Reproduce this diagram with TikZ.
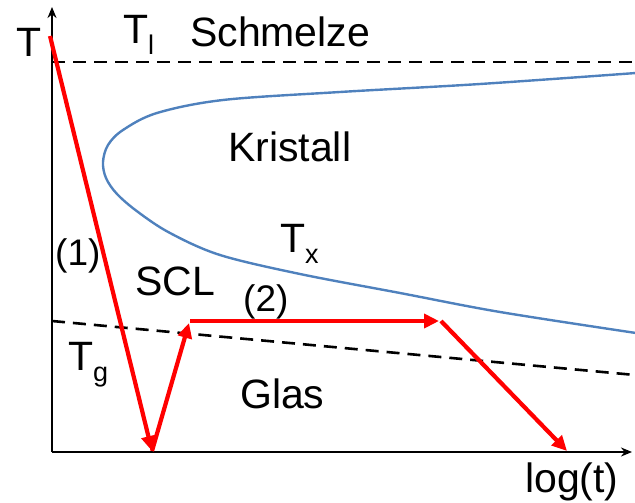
\documentclass[tikz,border=0pt]{standalone}
\usepackage{fontspec}
\setmainfont{Liberation Sans}
\usetikzlibrary{arrows.meta}
\newcommand{\mysub}[1]{\raisebox{-11pt}{\fontsize{27}{30}\selectfont #1}}
\begin{document}
\begin{tikzpicture}[x=1pt,y=-1pt,
  lbl/.style={anchor=base west,inner sep=0pt,font=\fontsize{41}{48}\selectfont},
  slbl/.style={anchor=base west,inner sep=0pt,font=\fontsize{37}{44}\selectfont},
  axis/.style={line width=2.6pt,-{Stealth[length=11pt,width=9pt]}},
  dashln/.style={line width=2.6pt,dash pattern=on 13pt off 8pt},
  tcurve/.style={line width=2.4pt,color=curveblue},
  redarr/.style={line width=4.2pt,color=red,-{Triangle[length=15pt,width=14pt]}}]
\definecolor{curveblue}{HTML}{4F81BD}
\useasboundingbox (0,0) rectangle (635,503);
% reference points
\coordinate (o) at (52,452);
\coordinate (ytop) at (52,7);
\coordinate (xend) at (632,452);
\coordinate (l0) at (52,62);
\coordinate (l1) at (635,62);
\coordinate (g0) at (52,321);
\coordinate (g1) at (635,375);
\coordinate (p0) at (50,36);
\coordinate (p1) at (152,451);
\coordinate (p2) at (189,323);
\coordinate (p2b) at (190,321);
\coordinate (p3) at (439,321);
\coordinate (p3b) at (441,321);
\coordinate (p4) at (567,451);
% dashed lines
\draw[dashln] (l0) -- (l1);
\draw[dashln] (g0) -- (g1);
% TTT curve
\draw[tcurve] plot[smooth,tension=0.55] coordinates {(636,73) (480,84) (340,92) (223,100) (157,113) (123,130) (108,145) (103,162) (106,178) (117,194) (138,212) (170,233) (220,255) (300,274) (400,293) (500,312) (636,333)};
% axes
\draw[axis] (o) -- (ytop);
\draw[axis] (o) -- (xend);
% red paths
\draw[redarr] (p0) -- (p1);
\draw[redarr] (p1) -- (p2);
\draw[redarr] (p2b) -- (p3);
\draw[redarr] (p3b) -- (p4);
% labels
\node[lbl] (tlab) at (16,57) {T};
\node[lbl] (tl) at (123,44) {T\mysub{l}};
\node[lbl] (schm) at (190,47) {Schmelze};
\node[lbl] (krist) at (228,161) {Kristall};
\node[lbl] (tx) at (280,252) {T\mysub{x}};
\node[lbl] (scl) at (135,295) {SCL};
\node[slbl] (one) at (55,265) {(1)};
\node[slbl] (two) at (243,311) {(2)};
\node[lbl] (tg) at (68,370) {T\mysub{g}};
\node[lbl] (glas) at (240,408) {Glas};
\node[lbl] (logt) at (525,492) {log(t)};
\end{tikzpicture}
\end{document}
